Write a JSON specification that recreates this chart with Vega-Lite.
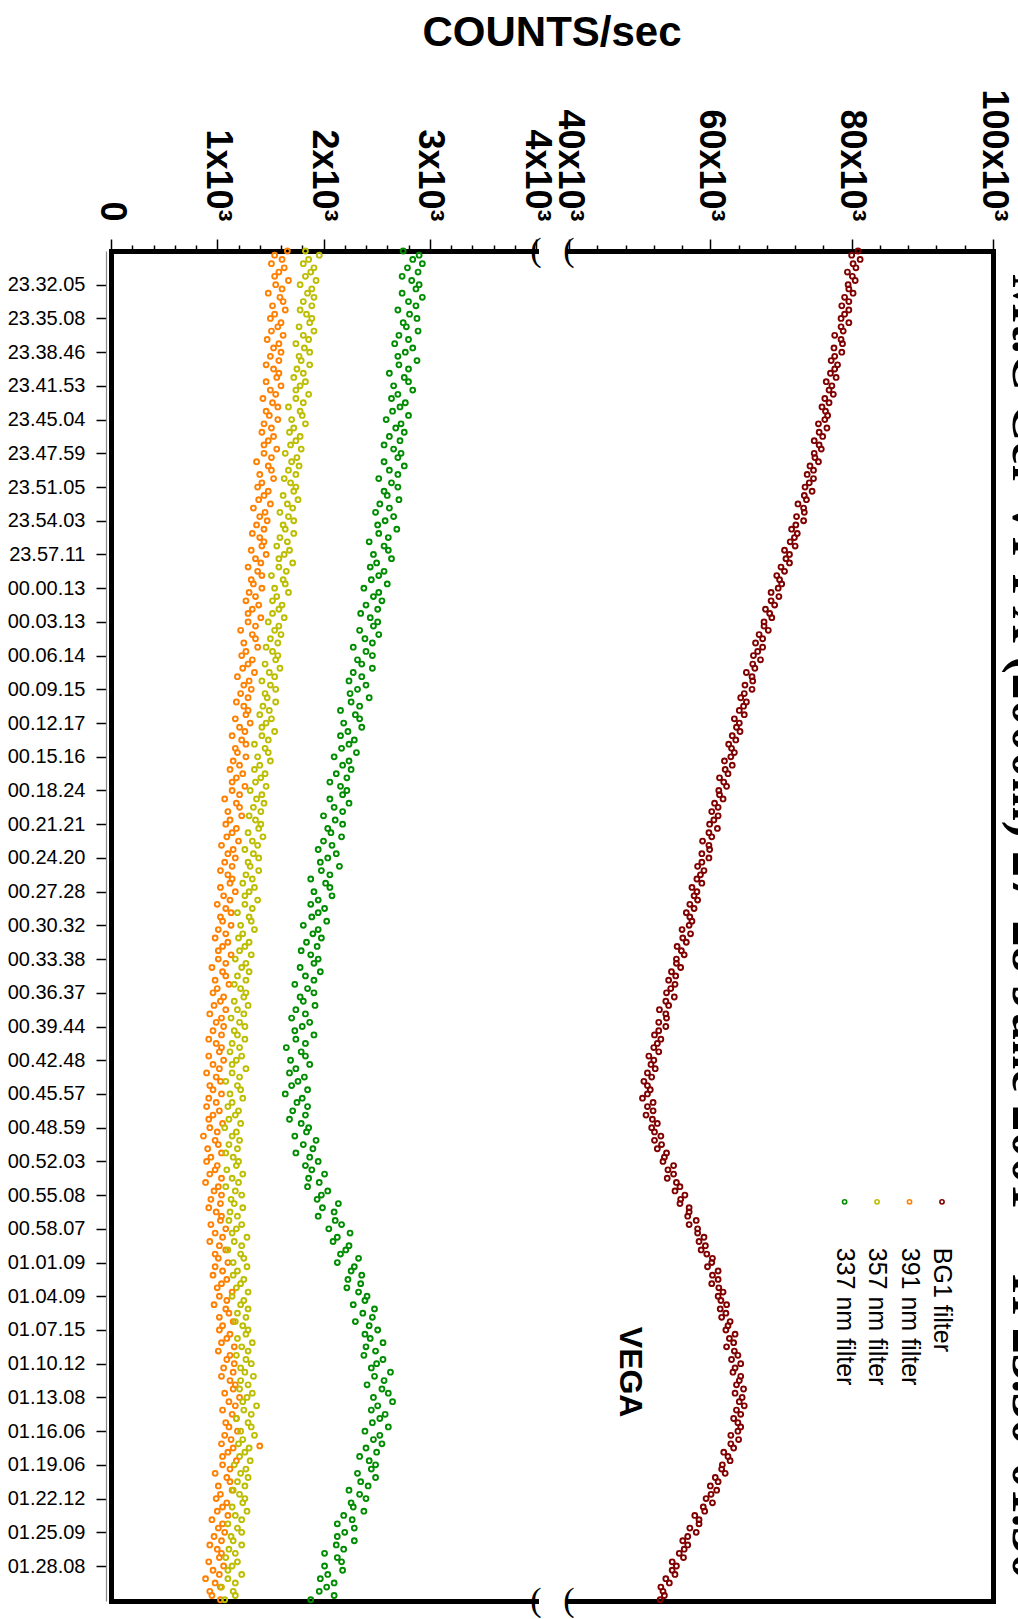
{
"$schema":"https://vega.github.io/schema/vega-lite/v6.json",
"autosize":{"type":"none"},
"width":882,"height":1350,
"padding":{"left":111,"top":251,"right":25,"bottom":18},
"background":"white",
"title":{"text":"COUNTS/sec","font":"Liberation Sans","fontWeight":"bold","fontSize":42,"color":"black","anchor":"middle","frame":"group","baseline":"alphabetic","offset":1},
"config":{"view":{"stroke":null},"font":"Liberation Sans"},
"datasets":{"d":[
{"t":0,"r":80.9,"o":1.66,"y":1.83,"g":2.75},{"t":1,"r":80.0,"o":1.54,"y":1.96,"g":2.90},{"t":2,"r":81.2,"o":1.61,"y":1.86,"g":2.84},{"t":3,"r":80.2,"o":1.51,"y":1.81,"g":2.93},{"t":4,"r":80.6,"o":1.63,"y":1.91,"g":2.79},{"t":5,"r":79.4,"o":1.58,"y":1.88,"g":2.89},{"t":6,"r":80.1,"o":1.54,"y":1.83,"g":2.74},{"t":7,"r":80.5,"o":1.67,"y":1.93,"g":2.83},
{"t":8,"r":79.5,"o":1.55,"y":1.78,"g":2.90},{"t":9,"r":79.6,"o":1.61,"y":1.89,"g":2.87},{"t":10,"r":80.2,"o":1.48,"y":1.85,"g":2.74},{"t":11,"r":79.0,"o":1.59,"y":1.91,"g":2.93},{"t":12,"r":79.6,"o":1.62,"y":1.81,"g":2.80},{"t":13,"r":78.6,"o":1.52,"y":1.89,"g":2.87},{"t":14,"r":79.6,"o":1.64,"y":1.78,"g":2.70},{"t":15,"r":79.0,"o":1.54,"y":1.84,"g":2.81},
{"t":16,"r":78.5,"o":1.50,"y":1.89,"g":2.88},{"t":17,"r":79.6,"o":1.60,"y":1.87,"g":2.75},{"t":18,"r":78.5,"o":1.57,"y":1.77,"g":2.78},{"t":19,"r":78.8,"o":1.51,"y":1.91,"g":2.89},{"t":20,"r":77.6,"o":1.62,"y":1.81,"g":2.71},{"t":21,"r":78.5,"o":1.47,"y":1.86,"g":2.80},{"t":22,"r":78.7,"o":1.58,"y":1.74,"g":2.67},{"t":23,"r":77.5,"o":1.53,"y":1.82,"g":2.84},
{"t":24,"r":78.6,"o":1.60,"y":1.87,"g":2.77},{"t":25,"r":77.6,"o":1.50,"y":1.77,"g":2.70},{"t":26,"r":77.1,"o":1.58,"y":1.79,"g":2.88},{"t":27,"r":78.0,"o":1.46,"y":1.87,"g":2.71},{"t":28,"r":77.6,"o":1.53,"y":1.75,"g":2.80},{"t":29,"r":77.0,"o":1.58,"y":1.81,"g":2.62},{"t":30,"r":77.8,"o":1.56,"y":1.72,"g":2.76},{"t":31,"r":76.4,"o":1.46,"y":1.83,"g":2.80},
{"t":32,"r":77.2,"o":1.60,"y":1.78,"g":2.66},{"t":33,"r":76.8,"o":1.50,"y":1.74,"g":2.84},{"t":34,"r":77.4,"o":1.55,"y":1.86,"g":2.70},{"t":35,"r":76.2,"o":1.43,"y":1.74,"g":2.64},{"t":36,"r":76.8,"o":1.52,"y":1.81,"g":2.77},{"t":37,"r":75.8,"o":1.57,"y":1.67,"g":2.72},{"t":38,"r":76.3,"o":1.46,"y":1.78,"g":2.65},{"t":39,"r":76.6,"o":1.49,"y":1.80,"g":2.80},
{"t":40,"r":76.2,"o":1.57,"y":1.70,"g":2.59},{"t":41,"r":75.3,"o":1.44,"y":1.83,"g":2.73},{"t":42,"r":76.5,"o":1.51,"y":1.72,"g":2.68},{"t":43,"r":75.4,"o":1.42,"y":1.68,"g":2.76},{"t":44,"r":75.9,"o":1.53,"y":1.78,"g":2.62},{"t":45,"r":74.7,"o":1.48,"y":1.74,"g":2.72},{"t":46,"r":75.4,"o":1.44,"y":1.69,"g":2.57},{"t":47,"r":75.7,"o":1.56,"y":1.79,"g":2.66},
{"t":48,"r":74.7,"o":1.44,"y":1.64,"g":2.73},{"t":49,"r":74.8,"o":1.51,"y":1.75,"g":2.70},{"t":50,"r":75.3,"o":1.37,"y":1.70,"g":2.57},{"t":51,"r":74.1,"o":1.48,"y":1.77,"g":2.76},{"t":52,"r":74.6,"o":1.51,"y":1.67,"g":2.62},{"t":53,"r":73.7,"o":1.40,"y":1.74,"g":2.70},{"t":54,"r":74.6,"o":1.53,"y":1.63,"g":2.52},{"t":55,"r":74.0,"o":1.42,"y":1.69,"g":2.64},
{"t":56,"r":73.4,"o":1.38,"y":1.74,"g":2.70},{"t":57,"r":74.4,"o":1.48,"y":1.72,"g":2.57},{"t":58,"r":73.3,"o":1.44,"y":1.62,"g":2.60},{"t":59,"r":73.6,"o":1.39,"y":1.76,"g":2.71},{"t":60,"r":72.4,"o":1.50,"y":1.66,"g":2.53},{"t":61,"r":73.2,"o":1.34,"y":1.71,"g":2.62},{"t":62,"r":73.3,"o":1.45,"y":1.59,"g":2.49},{"t":63,"r":72.2,"o":1.40,"y":1.67,"g":2.66},
{"t":64,"r":73.2,"o":1.47,"y":1.72,"g":2.58},{"t":65,"r":72.1,"o":1.37,"y":1.62,"g":2.51},{"t":66,"r":71.5,"o":1.44,"y":1.64,"g":2.69},{"t":67,"r":72.3,"o":1.33,"y":1.72,"g":2.52},{"t":68,"r":71.9,"o":1.40,"y":1.59,"g":2.61},{"t":69,"r":71.3,"o":1.44,"y":1.66,"g":2.43},{"t":70,"r":72.0,"o":1.42,"y":1.56,"g":2.57},{"t":71,"r":70.5,"o":1.32,"y":1.68,"g":2.61},
{"t":72,"r":71.2,"o":1.46,"y":1.63,"g":2.47},{"t":73,"r":70.7,"o":1.36,"y":1.58,"g":2.64},{"t":74,"r":71.2,"o":1.41,"y":1.71,"g":2.50},{"t":75,"r":70.0,"o":1.29,"y":1.58,"g":2.44},{"t":76,"r":70.5,"o":1.38,"y":1.65,"g":2.57},{"t":77,"r":69.4,"o":1.42,"y":1.51,"g":2.52},{"t":78,"r":69.8,"o":1.32,"y":1.62,"g":2.45},{"t":79,"r":70.1,"o":1.34,"y":1.64,"g":2.60},
{"t":80,"r":69.6,"o":1.42,"y":1.54,"g":2.38},{"t":81,"r":68.6,"o":1.30,"y":1.67,"g":2.52},{"t":82,"r":69.7,"o":1.36,"y":1.56,"g":2.47},{"t":83,"r":68.6,"o":1.27,"y":1.52,"g":2.55},{"t":84,"r":69.1,"o":1.39,"y":1.61,"g":2.40},{"t":85,"r":67.8,"o":1.33,"y":1.58,"g":2.51},{"t":86,"r":68.4,"o":1.29,"y":1.52,"g":2.35},{"t":87,"r":68.7,"o":1.41,"y":1.63,"g":2.44},
{"t":88,"r":67.6,"o":1.29,"y":1.48,"g":2.51},{"t":89,"r":67.6,"o":1.36,"y":1.58,"g":2.47},{"t":90,"r":68.2,"o":1.22,"y":1.54,"g":2.34},{"t":91,"r":66.9,"o":1.33,"y":1.60,"g":2.52},{"t":92,"r":67.4,"o":1.36,"y":1.50,"g":2.39},{"t":93,"r":66.4,"o":1.25,"y":1.57,"g":2.46},{"t":94,"r":67.4,"o":1.38,"y":1.46,"g":2.28},{"t":95,"r":66.7,"o":1.27,"y":1.52,"g":2.40},
{"t":96,"r":66.1,"o":1.23,"y":1.57,"g":2.46},{"t":97,"r":67.1,"o":1.33,"y":1.55,"g":2.32},{"t":98,"r":66.0,"o":1.29,"y":1.45,"g":2.36},{"t":99,"r":66.3,"o":1.24,"y":1.59,"g":2.46},{"t":100,"r":65.1,"o":1.35,"y":1.49,"g":2.28},{"t":101,"r":65.9,"o":1.19,"y":1.54,"g":2.36},{"t":102,"r":66.0,"o":1.30,"y":1.42,"g":2.24},{"t":103,"r":64.9,"o":1.25,"y":1.50,"g":2.40},
{"t":104,"r":65.9,"o":1.32,"y":1.55,"g":2.32},{"t":105,"r":64.8,"o":1.22,"y":1.45,"g":2.25},{"t":106,"r":64.3,"o":1.29,"y":1.47,"g":2.43},{"t":107,"r":65.1,"o":1.18,"y":1.55,"g":2.26},{"t":108,"r":64.7,"o":1.25,"y":1.43,"g":2.34},{"t":109,"r":64.1,"o":1.29,"y":1.49,"g":2.16},{"t":110,"r":64.8,"o":1.27,"y":1.40,"g":2.30},{"t":111,"r":63.4,"o":1.17,"y":1.51,"g":2.34},
{"t":112,"r":64.1,"o":1.31,"y":1.46,"g":2.19},{"t":113,"r":63.7,"o":1.21,"y":1.42,"g":2.36},{"t":114,"r":64.2,"o":1.26,"y":1.54,"g":2.23},{"t":115,"r":63.1,"o":1.14,"y":1.42,"g":2.16},{"t":116,"r":63.6,"o":1.23,"y":1.48,"g":2.29},{"t":117,"r":62.6,"o":1.27,"y":1.35,"g":2.24},{"t":118,"r":63.0,"o":1.17,"y":1.45,"g":2.17},{"t":119,"r":63.4,"o":1.19,"y":1.48,"g":2.31},
{"t":120,"r":62.9,"o":1.27,"y":1.38,"g":2.10},{"t":121,"r":62.0,"o":1.15,"y":1.50,"g":2.24},{"t":122,"r":63.1,"o":1.21,"y":1.40,"g":2.18},{"t":123,"r":62.1,"o":1.12,"y":1.35,"g":2.26},{"t":124,"r":62.5,"o":1.24,"y":1.45,"g":2.12},{"t":125,"r":61.3,"o":1.18,"y":1.41,"g":2.22},{"t":126,"r":61.9,"o":1.14,"y":1.36,"g":2.06},{"t":127,"r":62.3,"o":1.26,"y":1.46,"g":2.16},
{"t":128,"r":61.2,"o":1.14,"y":1.31,"g":2.22},{"t":129,"r":61.3,"o":1.21,"y":1.42,"g":2.18},{"t":130,"r":61.8,"o":1.07,"y":1.37,"g":2.06},{"t":131,"r":60.6,"o":1.18,"y":1.44,"g":2.24},{"t":132,"r":61.1,"o":1.21,"y":1.34,"g":2.10},{"t":133,"r":60.2,"o":1.10,"y":1.41,"g":2.18},{"t":134,"r":61.1,"o":1.23,"y":1.30,"g":2.00},{"t":135,"r":60.5,"o":1.12,"y":1.36,"g":2.11},
{"t":136,"r":59.9,"o":1.08,"y":1.41,"g":2.18},{"t":137,"r":61.0,"o":1.18,"y":1.39,"g":2.04},{"t":138,"r":59.8,"o":1.14,"y":1.29,"g":2.07},{"t":139,"r":60.2,"o":1.09,"y":1.43,"g":2.17},{"t":140,"r":58.9,"o":1.20,"y":1.33,"g":2.00},{"t":141,"r":59.8,"o":1.04,"y":1.38,"g":2.08},{"t":142,"r":59.9,"o":1.15,"y":1.26,"g":1.95},{"t":143,"r":58.8,"o":1.10,"y":1.34,"g":2.12},
{"t":144,"r":59.8,"o":1.17,"y":1.39,"g":2.04},{"t":145,"r":58.8,"o":1.07,"y":1.29,"g":1.97},{"t":146,"r":58.2,"o":1.14,"y":1.31,"g":2.15},{"t":147,"r":59.1,"o":1.03,"y":1.39,"g":1.98},{"t":148,"r":58.6,"o":1.10,"y":1.27,"g":2.06},{"t":149,"r":58.1,"o":1.14,"y":1.33,"g":1.88},{"t":150,"r":58.8,"o":1.12,"y":1.24,"g":2.02},{"t":151,"r":57.4,"o":1.03,"y":1.35,"g":2.06},
{"t":152,"r":58.1,"o":1.17,"y":1.30,"g":1.91},{"t":153,"r":57.7,"o":1.06,"y":1.26,"g":2.08},{"t":154,"r":58.2,"o":1.12,"y":1.38,"g":1.95},{"t":155,"r":57.1,"o":1.00,"y":1.26,"g":1.88},{"t":156,"r":57.7,"o":1.08,"y":1.33,"g":2.01},{"t":157,"r":56.6,"o":1.13,"y":1.19,"g":1.95},{"t":158,"r":57.1,"o":1.03,"y":1.30,"g":1.89},{"t":159,"r":57.4,"o":1.05,"y":1.32,"g":2.03},
{"t":160,"r":57.0,"o":1.13,"y":1.22,"g":1.81},{"t":161,"r":56.0,"o":1.01,"y":1.35,"g":1.95},{"t":162,"r":57.2,"o":1.08,"y":1.24,"g":1.90},{"t":163,"r":56.1,"o":0.98,"y":1.20,"g":1.98},{"t":164,"r":56.6,"o":1.10,"y":1.30,"g":1.84},{"t":165,"r":55.3,"o":1.05,"y":1.26,"g":1.94},{"t":166,"r":55.9,"o":1.01,"y":1.21,"g":1.79},{"t":167,"r":56.3,"o":1.13,"y":1.32,"g":1.88},
{"t":168,"r":55.2,"o":1.01,"y":1.17,"g":1.95},{"t":169,"r":55.2,"o":1.08,"y":1.27,"g":1.91},{"t":170,"r":55.8,"o":0.95,"y":1.23,"g":1.78},{"t":171,"r":54.5,"o":1.05,"y":1.30,"g":1.97},{"t":172,"r":55.1,"o":1.08,"y":1.19,"g":1.83},{"t":173,"r":54.1,"o":0.98,"y":1.27,"g":1.91},{"t":174,"r":55.0,"o":1.11,"y":1.16,"g":1.73},{"t":175,"r":54.4,"o":1.00,"y":1.22,"g":1.85},
{"t":176,"r":53.8,"o":0.96,"y":1.27,"g":1.91},{"t":177,"r":54.9,"o":1.06,"y":1.25,"g":1.78},{"t":178,"r":53.7,"o":1.03,"y":1.16,"g":1.81},{"t":179,"r":54.1,"o":0.97,"y":1.29,"g":1.92},{"t":180,"r":52.8,"o":1.08,"y":1.19,"g":1.74},{"t":181,"r":53.7,"o":0.93,"y":1.25,"g":1.83},{"t":182,"r":53.8,"o":1.04,"y":1.13,"g":1.70},{"t":183,"r":52.7,"o":0.99,"y":1.21,"g":1.87},
{"t":184,"r":53.7,"o":1.06,"y":1.26,"g":1.80},{"t":185,"r":52.7,"o":0.96,"y":1.16,"g":1.73},{"t":186,"r":52.1,"o":1.04,"y":1.19,"g":1.91},{"t":187,"r":53.0,"o":0.92,"y":1.26,"g":1.74},{"t":188,"r":52.5,"o":0.99,"y":1.14,"g":1.83},{"t":189,"r":52.0,"o":1.04,"y":1.21,"g":1.65},{"t":190,"r":52.7,"o":1.02,"y":1.12,"g":1.79},{"t":191,"r":51.3,"o":0.92,"y":1.23,"g":1.83},
{"t":192,"r":52.0,"o":1.06,"y":1.18,"g":1.69},{"t":193,"r":51.6,"o":0.96,"y":1.14,"g":1.87},{"t":194,"r":52.2,"o":1.02,"y":1.27,"g":1.74},{"t":195,"r":51.1,"o":0.90,"y":1.14,"g":1.68},{"t":196,"r":51.7,"o":0.99,"y":1.21,"g":1.82},{"t":197,"r":50.6,"o":1.03,"y":1.08,"g":1.76},{"t":198,"r":51.1,"o":0.93,"y":1.19,"g":1.70},{"t":199,"r":51.5,"o":0.96,"y":1.22,"g":1.85},
{"t":200,"r":51.1,"o":1.04,"y":1.12,"g":1.64},{"t":201,"r":50.4,"o":0.92,"y":1.24,"g":1.80},{"t":202,"r":51.9,"o":0.99,"y":1.14,"g":1.75},{"t":203,"r":51.1,"o":0.90,"y":1.10,"g":1.85},{"t":204,"r":51.9,"o":1.02,"y":1.20,"g":1.71},{"t":205,"r":50.9,"o":0.96,"y":1.17,"g":1.83},{"t":206,"r":51.8,"o":0.92,"y":1.11,"g":1.68},{"t":207,"r":52.5,"o":1.05,"y":1.22,"g":1.79},
{"t":208,"r":51.7,"o":0.93,"y":1.07,"g":1.86},{"t":209,"r":52.1,"o":1.00,"y":1.18,"g":1.84},{"t":210,"r":53.0,"o":0.87,"y":1.14,"g":1.73},{"t":211,"r":52.1,"o":0.98,"y":1.21,"g":1.93},{"t":212,"r":53.1,"o":1.01,"y":1.11,"g":1.81},{"t":213,"r":52.5,"o":0.91,"y":1.19,"g":1.90},{"t":214,"r":53.8,"o":1.04,"y":1.08,"g":1.74},{"t":215,"r":53.5,"o":0.94,"y":1.15,"g":1.87},
{"t":216,"r":53.3,"o":0.90,"y":1.20,"g":1.95},{"t":217,"r":54.8,"o":1.00,"y":1.18,"g":1.83},{"t":218,"r":54.0,"o":0.98,"y":1.09,"g":1.89},{"t":219,"r":54.8,"o":0.93,"y":1.24,"g":2.01},{"t":220,"r":53.9,"o":1.04,"y":1.14,"g":1.86},{"t":221,"r":55.2,"o":0.89,"y":1.20,"g":1.96},{"t":222,"r":55.7,"o":1.01,"y":1.08,"g":1.85},{"t":223,"r":55.0,"o":0.97,"y":1.17,"g":2.04},
{"t":224,"r":56.4,"o":1.04,"y":1.23,"g":1.98},{"t":225,"r":55.8,"o":0.94,"y":1.13,"g":1.94},{"t":226,"r":55.7,"o":1.03,"y":1.16,"g":2.14},{"t":227,"r":57.0,"o":0.92,"y":1.24,"g":1.99},{"t":228,"r":57.0,"o":0.99,"y":1.12,"g":2.10},{"t":229,"r":56.8,"o":1.04,"y":1.19,"g":1.95},{"t":230,"r":58.0,"o":1.03,"y":1.11,"g":2.11},{"t":231,"r":57.0,"o":0.94,"y":1.23,"g":2.17},
{"t":232,"r":58.2,"o":1.08,"y":1.18,"g":2.05},{"t":233,"r":58.2,"o":0.98,"y":1.14,"g":2.25},{"t":234,"r":59.1,"o":1.05,"y":1.28,"g":2.13},{"t":235,"r":58.4,"o":0.93,"y":1.16,"g":2.09},{"t":236,"r":59.3,"o":1.02,"y":1.23,"g":2.24},{"t":237,"r":58.7,"o":1.08,"y":1.10,"g":2.21},{"t":238,"r":59.5,"o":0.98,"y":1.22,"g":2.16},{"t":239,"r":60.3,"o":1.01,"y":1.25,"g":2.33},
{"t":240,"r":60.2,"o":1.10,"y":1.15,"g":2.13},{"t":241,"r":59.6,"o":0.98,"y":1.28,"g":2.29},{"t":242,"r":61.1,"o":1.05,"y":1.19,"g":2.26},{"t":243,"r":60.3,"o":0.96,"y":1.15,"g":2.36},{"t":244,"r":61.1,"o":1.09,"y":1.25,"g":2.23},{"t":245,"r":60.2,"o":1.04,"y":1.22,"g":2.35},{"t":246,"r":61.2,"o":1.00,"y":1.18,"g":2.22},{"t":247,"r":61.8,"o":1.14,"y":1.29,"g":2.33},
{"t":248,"r":61.1,"o":1.02,"y":1.14,"g":2.41},{"t":249,"r":61.5,"o":1.09,"y":1.25,"g":2.39},{"t":250,"r":62.3,"o":0.97,"y":1.22,"g":2.28},{"t":251,"r":61.4,"o":1.08,"y":1.29,"g":2.48},{"t":252,"r":62.2,"o":1.11,"y":1.19,"g":2.37},{"t":253,"r":61.6,"o":1.02,"y":1.27,"g":2.46},{"t":254,"r":62.8,"o":1.15,"y":1.17,"g":2.30},{"t":255,"r":62.5,"o":1.05,"y":1.24,"g":2.43},
{"t":256,"r":62.2,"o":1.02,"y":1.29,"g":2.51},{"t":257,"r":63.5,"o":1.12,"y":1.27,"g":2.39},{"t":258,"r":62.7,"o":1.09,"y":1.19,"g":2.44},{"t":259,"r":63.3,"o":1.04,"y":1.33,"g":2.56},{"t":260,"r":62.3,"o":1.16,"y":1.23,"g":2.40},{"t":261,"r":63.4,"o":1.01,"y":1.29,"g":2.49},{"t":262,"r":63.9,"o":1.12,"y":1.18,"g":2.38},{"t":263,"r":63.0,"o":1.09,"y":1.27,"g":2.56},
{"t":264,"r":64.3,"o":1.16,"y":1.32,"g":2.50},{"t":265,"r":63.5,"o":1.06,"y":1.22,"g":2.45},{"t":266,"r":63.2,"o":1.15,"y":1.26,"g":2.63},{"t":267,"r":64.3,"o":1.04,"y":1.34,"g":2.48},{"t":268,"r":64.1,"o":1.12,"y":1.22,"g":2.57},{"t":269,"r":63.7,"o":1.17,"y":1.29,"g":2.41},{"t":270,"r":64.7,"o":1.15,"y":1.21,"g":2.55},{"t":271,"r":63.5,"o":1.07,"y":1.33,"g":2.61},
{"t":272,"r":64.5,"o":1.21,"y":1.28,"g":2.47},{"t":273,"r":64.1,"o":1.11,"y":1.24,"g":2.65},{"t":274,"r":64.8,"o":1.17,"y":1.37,"g":2.51},{"t":275,"r":63.7,"o":1.05,"y":1.25,"g":2.45},{"t":276,"r":64.3,"o":1.14,"y":1.32,"g":2.58},{"t":277,"r":63.3,"o":1.18,"y":1.18,"g":2.53},{"t":278,"r":63.9,"o":1.08,"y":1.29,"g":2.46},{"t":279,"r":64.3,"o":1.11,"y":1.32,"g":2.61},
{"t":280,"r":63.9,"o":1.19,"y":1.22,"g":2.39},{"t":281,"r":62.9,"o":1.07,"y":1.35,"g":2.53},{"t":282,"r":64.0,"o":1.13,"y":1.24,"g":2.47},{"t":283,"r":62.9,"o":1.04,"y":1.20,"g":2.55},{"t":284,"r":63.3,"o":1.15,"y":1.30,"g":2.40},{"t":285,"r":61.9,"o":1.10,"y":1.26,"g":2.50},{"t":286,"r":62.5,"o":1.05,"y":1.21,"g":2.34},{"t":287,"r":62.8,"o":1.18,"y":1.31,"g":2.43},
{"t":288,"r":61.7,"o":1.05,"y":1.16,"g":2.49},{"t":289,"r":61.6,"o":1.12,"y":1.27,"g":2.45},{"t":290,"r":62.1,"o":0.98,"y":1.22,"g":2.32},{"t":291,"r":60.7,"o":1.09,"y":1.29,"g":2.49},{"t":292,"r":61.1,"o":1.12,"y":1.19,"g":2.35},{"t":293,"r":60.0,"o":1.01,"y":1.26,"g":2.42},{"t":294,"r":60.9,"o":1.14,"y":1.15,"g":2.24},{"t":295,"r":60.1,"o":1.03,"y":1.21,"g":2.34},
{"t":296,"r":59.4,"o":0.99,"y":1.26,"g":2.40},{"t":297,"r":60.3,"o":1.09,"y":1.24,"g":2.26},{"t":298,"r":59.0,"o":1.05,"y":1.14,"g":2.28},{"t":299,"r":59.2,"o":1.00,"y":1.28,"g":2.38},{"t":300,"r":57.8,"o":1.10,"y":1.17,"g":2.19},{"t":301,"r":58.4,"o":0.95,"y":1.23,"g":2.27},{"t":302,"r":58.4,"o":1.05,"y":1.10,"g":2.13},{"t":303,"r":57.1,"o":1.01,"y":1.19,"g":2.29},
{"t":304,"r":58.0,"o":1.07,"y":1.23,"g":2.20},{"t":305,"r":56.8,"o":0.97,"y":1.13,"g":2.13},{"t":306,"r":56.1,"o":1.04,"y":1.15,"g":2.29},{"t":307,"r":56.8,"o":0.93,"y":1.23,"g":2.12},{"t":308,"r":56.3,"o":1.00,"y":1.11,"g":2.19},{"t":309,"r":55.6,"o":1.04,"y":1.17,"g":2.01},{"t":310,"r":56.2,"o":1.02,"y":1.08,"g":2.13},{"t":311,"r":54.6,"o":0.92,"y":1.19,"g":2.17},
{"t":312,"r":55.2,"o":1.06,"y":1.14,"g":2.01},{"t":313,"r":54.6,"o":0.96,"y":1.10,"g":2.18},{"t":314,"r":55.0,"o":1.02,"y":1.23,"g":2.04},{"t":315,"r":53.7,"o":0.89,"y":1.10,"g":1.97},{"t":316,"r":54.2,"o":0.98,"y":1.17,"g":2.10},{"t":317,"r":53.0,"o":1.03,"y":1.04,"g":2.03},{"t":318,"r":53.3,"o":0.93,"y":1.15,"g":1.96},{"t":319,"r":53.5,"o":0.95,"y":1.17,"g":2.10},
{"t":320,"r":52.9,"o":1.03,"y":1.07,"g":1.88},{"t":283.5,"o":1.40}
],
"lg":[{"k":"g","n":"337 nm filter"},{"k":"y","n":"357 nm filter"},{"k":"o","n":"391 nm filter"},{"k":"r","n":"BG1 filter"}]
},
"layer":[
{
"data":{"name":"d"},
"transform":[{"fold":["r","o","y","g"],"as":["k","v"]},{"filter":"datum.k != 'r'"}],
"mark":{"type":"point","filled":false,"size":24,"strokeWidth":1.9,"opacity":1},
"encoding":{
"x":{"field":"v","type":"quantitative","scale":{"domain":[0,4],"range":[0,425],"nice":false,"zero":false},
"axis":{"orient":"top","values":[0,1,2,3,4],"labelExpr":"datum.value == 0 ? '0' : datum.value + 'x10³'","labelAngle":90,"labelAlign":"right","labelBaseline":"middle","labelFont":"Liberation Sans","labelFontWeight":"bold","labelFontSize":36,"labelColor":"black","labelPadding":18,"labelOverlap":false,"labelBound":false,"labelFlush":false,"tickSize":12,"tickColor":"black","tickWidth":1.5,"domainColor":"black","domainWidth":5,"domainCap":"square","title":null,"grid":false}},
"y":{"field":"t","type":"quantitative","scale":{"domain":[0,320.3],"nice":false,"zero":false,"reverse":true},
"axis":{"orient":"left","offset":5,"values":[8,16,24,32,40,48,56,64,72,80,88,96,104,112,120,128,136,144,152,160,168,176,184,192,200,208,216,224,232,240,248,256,264,272,280,288,296,304,312],"labelExpr":"['23.32.05','23.35.08','23.38.46','23.41.53','23.45.04','23.47.59','23.51.05','23.54.03','23.57.11','00.00.13','00.03.13','00.06.14','00.09.15','00.12.17','00.15.16','00.18.24','00.21.21','00.24.20','00.27.28','00.30.32','00.33.38','00.36.37','00.39.44','00.42.48','00.45.57','00.48.59','00.52.03','00.55.08','00.58.07','01.01.09','01.04.09','01.07.15','01.10.12','01.13.08','01.16.06','01.19.06','01.22.12','01.25.09','01.28.08'][round(datum.value/8)-1]","labelFont":"Liberation Sans","labelFontSize":20,"labelColor":"black","labelPadding":11,"labelOverlap":false,"labelBound":false,"labelFlush":false,"tickSize":10,"tickColor":"black","tickWidth":1.5,"domainColor":"#888888","domainWidth":1.2,"title":null,"grid":false}},
"color":{"field":"k","type":"nominal","scale":{"domain":["g","y","o","r"],"range":["#008C00","#BDBD00","#FF8000","#800000"]},"legend":null}
}
},
{
"data":{"name":"d"},
"transform":[{"fold":["r","o","y","g"],"as":["k","v"]},{"filter":"datum.k == 'r'"}],
"mark":{"type":"point","filled":false,"size":24,"strokeWidth":1.9,"opacity":1},
"encoding":{
"x":{"field":"v","type":"quantitative","scale":{"domain":[40,100],"range":[458,882],"nice":false,"zero":false},
"axis":{"orient":"top","values":[40,60,80,100],"labelExpr":"datum.value + 'x10³'","labelAngle":90,"labelAlign":"right","labelBaseline":"middle","labelFont":"Liberation Sans","labelFontWeight":"bold","labelFontSize":36,"labelColor":"black","labelPadding":18,"labelOverlap":false,"labelBound":false,"labelFlush":false,"tickSize":12,"tickColor":"black","tickWidth":1.5,"domainColor":"black","domainWidth":5,"domainCap":"square","title":null,"grid":false}},
"y":{"field":"t","type":"quantitative","scale":{"domain":[0,320.3],"nice":false,"zero":false,"reverse":true},
"axis":{"orient":"right","ticks":false,"labels":false,"domainColor":"black","domainWidth":5,"domainCap":"square","grid":false,"title":"Mt.C Cer VI-PX (2000m) 27-28 June 2001\u00a0\u00a0\u00a0\u00a0 H 23.30-01.30","titleFont":"Liberation Serif","titleFontWeight":"bold","titleFontSize":52,"titleColor":"black","titleAngle":90,"titleBaseline":"alphabetic","titlePadding":19,"titleLimit":3000}},
"color":{"field":"k","type":"nominal","scale":{"domain":["g","y","o","r"],"range":["#008C00","#BDBD00","#FF8000","#800000"]},"legend":null}
}
},
{
"data":{"name":"lg"},
"mark":{"type":"point","filled":false,"size":18,"strokeWidth":1.6,"opacity":1},
"encoding":{
"x":{"field":"k","type":"nominal","sort":null,"scale":{"type":"point","domain":["g","y","o","r"],"range":[733.6,831],"padding":0},"axis":null},
"y":{"datum":225.6,"type":"quantitative","scale":{"domain":[0,320.3],"nice":false,"zero":false,"reverse":true},"axis":null},
"color":{"field":"k","type":"nominal","scale":{"domain":["g","y","o","r"],"range":["#008C00","#BDBD00","#FF8000","#800000"]},"legend":null}
}
},
{
"data":{"name":"lg"},
"mark":{"type":"text","angle":90,"align":"left","baseline":"middle","font":"Liberation Sans","fontSize":25,"color":"black"},
"encoding":{
"x":{"field":"k","type":"nominal","sort":null,"scale":{"type":"point","domain":["g","y","o","r"],"range":[733.6,831],"padding":0},"axis":null},
"y":{"datum":236.5,"type":"quantitative","scale":{"domain":[0,320.3],"nice":false,"zero":false,"reverse":true},"axis":null},
"text":{"field":"n"}
}
},
{
"data":{"values":[{"v":0,"t":0}]},
"mark":{"type":"point","opacity":0},
"encoding":{
"x":{"field":"v","type":"quantitative","scale":{"domain":[0,4],"range":[0,425],"nice":false,"zero":false},"axis":{"orient":"bottom","labels":false,"ticks":false,"domainColor":"black","domainWidth":5,"domainCap":"square","title":null,"grid":false}},
"y":{"field":"t","type":"quantitative","scale":{"domain":[0,320.3],"nice":false,"zero":false,"reverse":true},"axis":{"orient":"left","labels":false,"ticks":false,"domainColor":"black","domainWidth":5,"domainCap":"square","title":null,"grid":false}}
}
},
{
"data":{"values":[{"v":50,"t":0}]},
"mark":{"type":"point","opacity":0},
"encoding":{
"x":{"field":"v","type":"quantitative","scale":{"domain":[40,100],"range":[458,882],"nice":false,"zero":false},"axis":{"orient":"bottom","labels":false,"ticks":false,"domainColor":"black","domainWidth":5,"domainCap":"square","title":null,"grid":false}},
"y":{"field":"t","type":"quantitative","scale":{"domain":[0,320.3],"nice":false,"zero":false,"reverse":true},"axis":null}
}
},
{
"data":{"values":[{"v":0,"t":0}]},
"mark":{"type":"point","opacity":0},
"encoding":{
"x":{"field":"v","type":"quantitative","scale":{"domain":[0,4],"range":[0,425],"nice":false,"zero":false},"axis":{"orient":"top","values":[0.2,0.4,0.6,0.8,1.2,1.4,1.6,1.8,2.2,2.4,2.6,2.8,3.2,3.4,3.6,3.8],"labels":false,"domain":false,"tickSize":6,"tickColor":"black","tickWidth":1.5,"title":null,"grid":false}},
"y":{"field":"t","type":"quantitative","scale":{"domain":[0,320.3],"nice":false,"zero":false,"reverse":true},"axis":null}
}
},
{
"data":{"values":[{"v":50,"t":0}]},
"mark":{"type":"point","opacity":0},
"encoding":{
"x":{"field":"v","type":"quantitative","scale":{"domain":[40,100],"range":[458,882],"nice":false,"zero":false},"axis":{"orient":"top","values":[44,48,52,56,64,68,72,76,84,88,92,96],"labels":false,"domain":false,"tickSize":6,"tickColor":"black","tickWidth":1.5,"title":null,"grid":false}},
"y":{"field":"t","type":"quantitative","scale":{"domain":[0,320.3],"nice":false,"zero":false,"reverse":true},"axis":null}
}
},
{
"data":{"values":[{"v":48.6,"t":266,"s":"VEGA"}]},
"mark":{"type":"text","angle":90,"font":"Liberation Sans","fontWeight":"bold","fontSize":32,"align":"center","baseline":"middle","color":"black"},
"encoding":{
"x":{"field":"v","type":"quantitative","scale":{"domain":[40,100],"range":[458,882],"nice":false,"zero":false},"axis":null},
"y":{"field":"t","type":"quantitative","scale":{"domain":[0,320.3],"nice":false,"zero":false,"reverse":true},"axis":null},
"text":{"field":"s"}
}
},
{
"data":{"values":[{"v":4,"t":0},{"v":4,"t":320.3}]},
"mark":{"type":"text","text":"(","font":"Liberation Serif","fontSize":34,"align":"center","baseline":"middle","color":"black"},
"encoding":{
"x":{"field":"v","type":"quantitative","scale":{"domain":[0,4],"range":[0,425],"nice":false,"zero":false},"axis":null},
"y":{"field":"t","type":"quantitative","scale":{"domain":[0,320.3],"nice":false,"zero":false,"reverse":true},"axis":null}
}
},
{
"data":{"values":[{"v":40,"t":0},{"v":40,"t":320.3}]},
"mark":{"type":"text","text":"(","font":"Liberation Serif","fontSize":34,"align":"center","baseline":"middle","color":"black"},
"encoding":{
"x":{"field":"v","type":"quantitative","scale":{"domain":[40,100],"range":[458,882],"nice":false,"zero":false},"axis":null},
"y":{"field":"t","type":"quantitative","scale":{"domain":[0,320.3],"nice":false,"zero":false,"reverse":true},"axis":null}
}
}
],
"resolve":{"scale":{"x":"independent"},"axis":{"x":"independent","y":"independent"}}
}
